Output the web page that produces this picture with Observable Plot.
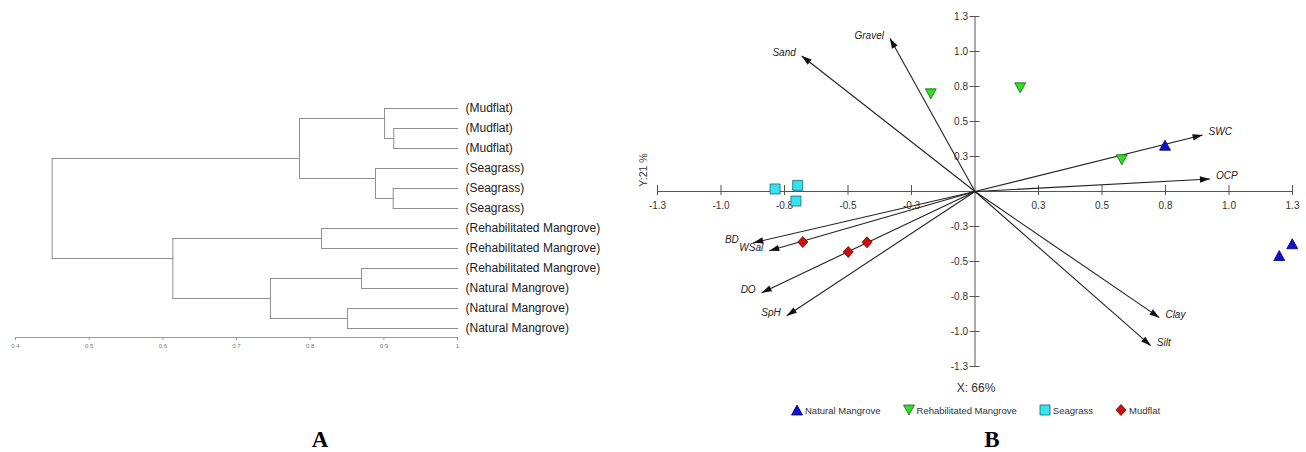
<!DOCTYPE html>
<html><head><meta charset="utf-8">
<script src="https://cdn.jsdelivr.net/npm/d3@7"></script>
<script src="https://cdn.jsdelivr.net/npm/@observablehq/plot@0.6"></script>
<style>
body{margin:0;background:#fff;}
#root{position:relative;width:1306px;height:452px;overflow:hidden;font-family:"Liberation Sans",Arial,sans-serif;background:#fff;}
.abs{position:absolute;}
.legend{display:flex;align-items:center;gap:22px;font-size:9.5px;color:#333;}
.legend span.item{display:flex;align-items:center;gap:2px;}
.letter{font-family:"Liberation Serif","Times New Roman",serif;font-weight:bold;font-size:23px;color:#000;}
</style></head><body><div id="root"></div>
<script>
// ---------- Panel A: dendrogram data ----------
const leafLabels = ["(Mudflat)","(Mudflat)","(Mudflat)","(Seagrass)","(Seagrass)","(Seagrass)",
  "(Rehabilitated Mangrove)","(Rehabilitated Mangrove)","(Rehabilitated Mangrove)",
  "(Natural Mangrove)","(Natural Mangrove)","(Natural Mangrove)"];
// linkage: node 12+k joins mergeLeft[k] and mergeRight[k] at mergeSimilarity[k]
const mergeLeft  = [1, 0, 4, 3, 13, 6, 8, 10, 18, 17, 16];
const mergeRight = [2, 12, 5, 14, 15, 7, 9, 11, 19, 20, 21];
const mergeSimilarity = [0.9135, 0.901, 0.9127, 0.8887, 0.7855, 0.8154, 0.8697, 0.8507, 0.7461, 0.6136, 0.4498];
const simTicks = [0.4, 0.5, 0.6, 0.7, 0.8, 0.9, 1];
const simTickLabels = ["0.4","0.5","0.6","0.7","0.8","0.9","1"];

// ---------- Panel B: PCA biplot data ----------
const vecNames = ["Sand","Gravel","SWC","OCP","Clay","Silt","BD","WSal","DO","SpH"];
const vecX = [-0.682, -0.335, 0.896, 0.925, 0.726, 0.692, -0.873, -0.810, -0.840, -0.741];
const vecY = [ 0.968,  1.094, 0.404, 0.089, -0.901, -1.101, -0.366, -0.423, -0.723, -0.887];

const groups = ["Natural Mangrove","Rehabilitated Mangrove","Seagrass","Mudflat"];
const siteGroup = ["Natural Mangrove","Natural Mangrove","Natural Mangrove",
  "Rehabilitated Mangrove","Rehabilitated Mangrove","Rehabilitated Mangrove",
  "Seagrass","Seagrass","Seagrass","Mudflat","Mudflat","Mudflat"];
const siteX = [0.748, 1.198, 1.249, -0.174, 0.178, 0.578, -0.787, -0.698, -0.705, -0.678, -0.499, -0.425];
const siteY = [0.327, -0.461, -0.377, 0.701, 0.744, 0.230, 0.018, 0.044, -0.068, -0.361, -0.432, -0.363];

const axTicks = [-1.25, -1, -0.75, -0.5, -0.25, 0.25, 0.5, 0.75, 1, 1.25];
const axTickLabels = ["-1.3","-1.0","-0.8","-0.5","-0.3","0.3","0.5","0.8","1.0","1.3"];
const xTitle = "X: 66%";
const yTitle = "Y:21 %";

const root = document.getElementById("root");

// ---------- build dendrogram segments ----------
const nodes = leafLabels.map((d, i) => ({x: 1, y: i, lo: i, hi: i}));
const segs = [];
mergeLeft.forEach((a, k) => {
  const b = mergeRight[k], h = mergeSimilarity[k];
  const A = nodes[a], B = nodes[b];
  const top = A.lo < B.lo ? A : B, bot = A.lo < B.lo ? B : A;
  segs.push({x1: h, x2: h, y1: A.y, y2: B.y});
  segs.push({x1: h, x2: A.x, y1: A.y, y2: A.y});
  segs.push({x1: h, x2: B.x, y1: B.y, y2: B.y});
  nodes.push({x: h, y: (top.hi + bot.lo) / 2, lo: Math.min(A.lo, B.lo), hi: Math.max(A.hi, B.hi)});
});

const plotA = Plot.plot({
  width: 620, height: 360,
  marginLeft: 15, marginRight: 163, marginTop: 108, marginBottom: 23,
  x: {domain: [0.4, 1], axis: null},
  y: {domain: [0, 11.45], reverse: true, axis: null},
  style: {fontFamily: "Liberation Sans, Arial, sans-serif", background: "transparent"},
  marks: [
    Plot.link(segs, {x1: "x1", x2: "x2", y1: "y1", y2: "y2", stroke: "#8f8f8f", strokeWidth: 1, strokeLinecap: "square"}),
    Plot.text(leafLabels, {x: 1, y: (d, i) => i, text: d => d, dx: 8, textAnchor: "start", fontSize: 12, fill: "#222"}),
    Plot.ruleY([11.45], {x1: 0.4, x2: 1, stroke: "#9a9a9a", strokeWidth: 1}),
    Plot.ruleX(simTicks, {x: d => d, y1: 11.45, y2: 11.45, insetTop: 0, insetBottom: -3, stroke: "#9a9a9a"}),
    Plot.text(simTicks, {x: d => d, y: 11.45, text: (d, i) => simTickLabels[i], dy: 9, fontSize: 6, fill: "#777"})
  ]
});
plotA.style.position = "absolute"; plotA.style.left = "0px"; plotA.style.top = "0px";
root.appendChild(plotA);

// ---------- Panel B ----------
const WB = 666, HB = 380, mlB = 17, mrB = 14, mtB = 16, mbB = 14;
const kx = (WB - mlB - mrB) / 2.5, ky = (HB - mtB - mbB) / 2.5;
const arrowHead = {draw(c) { c.moveTo(0, 0); c.lineTo(-3.2, 10); c.lineTo(3.2, 10); c.closePath(); }};
const triUp = {draw(c) { c.moveTo(0, -5.5); c.lineTo(5.5, 4.5); c.lineTo(-5.5, 4.5); c.closePath(); }};
const triDown = {draw(c) { c.moveTo(0, 5.5); c.lineTo(5.5, -4.5); c.lineTo(-5.5, -4.5); c.closePath(); }};
const square = {draw(c) { c.moveTo(-5, -5); c.lineTo(5, -5); c.lineTo(5, 5); c.lineTo(-5, 5); c.closePath(); }};
const diamond = {draw(c) { c.moveTo(0, -5.5); c.lineTo(5, 0); c.lineTo(0, 5.5); c.lineTo(-5, 0); c.closePath(); }};
const groupStyle = {
  "Natural Mangrove": {symbol: triUp, fill: "#1212cc", stroke: "#000066"},
  "Rehabilitated Mangrove": {symbol: triDown, fill: "#33dd22", stroke: "#116611"},
  "Seagrass": {symbol: square, fill: "#33e4ee", stroke: "#116677"},
  "Mudflat": {symbol: diamond, fill: "#cc1111", stroke: "#660000"}
};
const siteIdx = siteX.map((d, i) => i);

// label placement beside each arrow tip, nudged apart when two labels collide
const labels = vecNames.map((n, i) => {
  const right = vecX[i] >= 0;
  return {name: n, right, px: vecX[i] * kx + (right ? 6 : -6), py: -vecY[i] * ky - 3, w: n.length * 5.6};
});
const box = L => L.right ? [L.px, L.px + L.w] : [L.px - L.w, L.px];
for (let pass = 0; pass < 3; pass++) {
  labels.forEach(A => labels.forEach(B => {
    if (A === B || A.right !== B.right) return;
    if (Math.abs(A.py - B.py) >= 10) return;
    const [a0, a1] = box(A), [b0, b1] = box(B);
    if (a1 <= b0 || b1 <= a0) return;
    if (A.py < B.py) { // move upper label outward
      const shift = A.right ? (b1 - a0) + 2 : (a1 - b0) + 2;
      A.px += A.right ? shift : -shift;
    }
  }));
}
labels.forEach(L => { L.x = L.px / kx; L.y = -L.py / ky; });

const plotB = Plot.plot({
  width: WB, height: HB,
  marginLeft: mlB, marginRight: mrB, marginTop: mtB, marginBottom: mbB,
  x: {domain: [-1.25, 1.25], axis: null},
  y: {domain: [-1.25, 1.25], axis: null},
  style: {fontFamily: "Liberation Sans, Arial, sans-serif", background: "transparent"},
  marks: [
    Plot.ruleY([0], {x1: -1.25, x2: 1.25, stroke: "#555", strokeWidth: 1}),
    Plot.ruleX([0], {y1: -1.25, y2: 1.25, stroke: "#555", strokeWidth: 1}),
    Plot.ruleX(axTicks, {x: d => d, y1: 0, y2: 0, insetTop: -6, insetBottom: -4, stroke: "#555"}),
    Plot.ruleY(axTicks, {y: d => d, x1: 0, x2: 0, insetLeft: -5, insetRight: -5, stroke: "#555"}),
    Plot.text(axTicks, {x: d => d, y: 0, text: (d, i) => axTickLabels[i], dy: 14, fontSize: 10, fill: "#333"}),
    Plot.text(axTicks, {x: 0, y: d => d, text: (d, i) => axTickLabels[i], dx: -7, textAnchor: "end", fontSize: 10, fill: "#333"}),
    Plot.link(vecNames, {x1: 0, y1: 0, x2: (d, i) => vecX[i], y2: (d, i) => vecY[i], stroke: "#222", strokeWidth: 1.1}),
    Plot.dot(vecNames, {x: (d, i) => vecX[i], y: (d, i) => vecY[i], symbol: arrowHead, r: 5, fill: "#111", stroke: "none",
      rotate: (d, i) => Math.atan2(vecX[i] * kx, vecY[i] * ky) * 180 / Math.PI}),
    Plot.text(labels, {filter: L => L.right, x: "x", y: "y", text: "name",
      textAnchor: "start", fontSize: 10, fontStyle: "italic", fill: "#222"}),
    Plot.text(labels, {filter: L => !L.right, x: "x", y: "y", text: "name",
      textAnchor: "end", fontSize: 10, fontStyle: "italic", fill: "#222"}),
    ...groups.map(g => Plot.dot(siteIdx, {filter: i => siteGroup[i] === g, x: i => siteX[i], y: i => siteY[i],
      symbol: groupStyle[g].symbol, r: 5, fill: groupStyle[g].fill, stroke: groupStyle[g].stroke, strokeWidth: 0.8}))
  ]
});
plotB.style.position = "absolute"; plotB.style.left = "640px"; plotB.style.top = "0px";
root.appendChild(plotB);

// ---------- axis titles ----------
const xt = document.createElement("div");
xt.className = "abs"; xt.textContent = xTitle;
Object.assign(xt.style, {left: "926px", width: "100px", textAlign: "center", top: "381px", fontSize: "12px", color: "#333"});
root.appendChild(xt);
const yt = document.createElement("div");
yt.className = "abs"; yt.textContent = yTitle;
Object.assign(yt.style, {left: "593px", width: "100px", textAlign: "center", top: "164px", fontSize: "10.5px", color: "#333",
  transform: "rotate(-90deg)", transformOrigin: "50% 50%", lineHeight: "12px"});
root.appendChild(yt);

// ---------- legend ----------
const symPath = {
  "Natural Mangrove": "M6,1 L11.5,11 L0.5,11 Z",
  "Rehabilitated Mangrove": "M6,11 L11.5,1 L0.5,1 Z",
  "Seagrass": "M1,1 L11,1 L11,11 L1,11 Z",
  "Mudflat": "M6,0.5 L11,6 L6,11.5 L1,6 Z"
};
const leg = document.createElement("div");
leg.className = "abs legend";
Object.assign(leg.style, {left: "791px", top: "404px"});
groups.forEach(g => {
  const it = document.createElement("span");
  it.className = "item";
  it.innerHTML = `<svg width="12" height="12"><path d="${symPath[g]}" fill="${groupStyle[g].fill}" stroke="${groupStyle[g].stroke}" stroke-width="0.8"/></svg><span>${g}</span>`;
  leg.appendChild(it);
});
root.appendChild(leg);

// ---------- panel letters ----------
[["A", 320], ["B", 992]].forEach(([t, cx]) => {
  const d = document.createElement("div");
  d.className = "abs letter"; d.textContent = t;
  Object.assign(d.style, {left: (cx - 30) + "px", width: "60px", textAlign: "center", top: "428px", lineHeight: "24px"});
  root.appendChild(d);
});
</script></body></html>
